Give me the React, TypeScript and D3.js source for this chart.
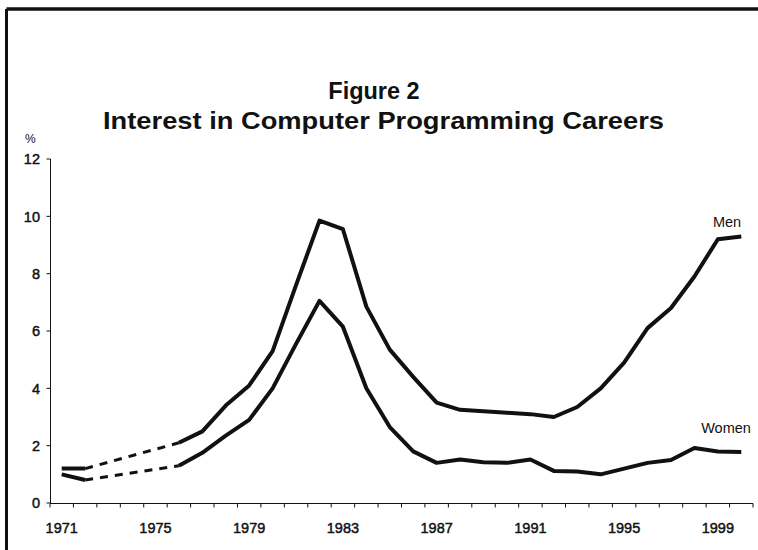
import React from "react";
import * as d3 from "d3";

const years: string[] = [
  "1971","1972","1973","1974","1975","1976","1977","1978","1979","1980",
  "1981","1982","1983","1984","1985","1986","1987","1988","1989","1990",
  "1991","1992","1993","1994","1995","1996","1997","1998","1999","2000",
];
const labeledYears: string[] = ["1971","1975","1979","1983","1987","1991","1995","1999"];
const yTicks: number[] = [0, 2, 4, 6, 8, 10, 12];

const men: (number | null)[] = [
  1.2, 1.2, null, null, null, 2.1, 2.5, 3.4, 4.1, 5.3,
  7.6, 9.85, 9.55, 6.85, 5.35, 4.4, 3.5, 3.25, 3.2, 3.15,
  3.1, 3.0, 3.35, 4.0, 4.9, 6.1, 6.8, 7.9, 9.2, 9.3,
];
const women: (number | null)[] = [
  1.0, 0.8, null, null, null, 1.3, 1.75, 2.35, 2.9, 4.0,
  5.55, 7.05, 6.15, 4.0, 2.65, 1.8, 1.4, 1.52, 1.42, 1.4,
  1.52, 1.12, 1.1, 1.0, 1.2, 1.4, 1.5, 1.92, 1.8, 1.78,
];

const W = 758;
const H = 550;
const FONT = "'Liberation Sans', Arial, Helvetica, sans-serif";
const INK = "#111";

export default function App() {
  const x = d3.scaleBand<string>().domain(years).range([50, 753]);
  const y = d3.scaleLinear().domain([0, 12]).range([503, 159]);
  const cx = (yr: string) => (x(yr) as number) + x.bandwidth() / 2;

  const line = d3
    .line<number | null>()
    .defined((d) => d !== null)
    .x((_, i) => cx(years[i]))
    .y((d) => y(d as number));

  // dashed connector across the gap in the data
  const gapPath = (series: (number | null)[]) => {
    const pts: [number, number][] = [];
    for (let i = 0; i < series.length - 1; i++) {
      if (series[i] !== null && series[i + 1] === null) {
        let j = i + 1;
        while (j < series.length && series[j] === null) j++;
        if (j < series.length) pts.push([i, j]);
      }
    }
    return pts
      .map(([a, b]) =>
        d3.line()([
          [cx(years[a]), y(series[a] as number)],
          [cx(years[b]), y(series[b] as number)],
        ])
      )
      .join(" ");
  };

  const tickXs = [...years.map((yr) => x(yr) as number), 753];
  const heavy = { stroke: INK, strokeWidth: 0.45 } as const;

  return (
    <svg
      width={W}
      height={H}
      style={{ position: "absolute", left: 0, top: 0, background: "#fff" }}
      fontFamily={FONT}
    >
      <rect x={0} y={0} width={W} height={H} fill="#fff" />
      {/* frame */}
      <line x1={6.5} y1={9} x2={W} y2={9} stroke={INK} strokeWidth={3.5} />
      <line x1={6.5} y1={9} x2={6.5} y2={H} stroke={INK} strokeWidth={3} />

      {/* title */}
      <text x={374} y={99} textAnchor="middle" fontSize={23.5} fontWeight="bold" fill={INK}>
        Figure 2
      </text>
      <text
        x={383.5}
        y={129}
        textAnchor="middle"
        fontSize={23.5}
        fontWeight="bold"
        fill={INK}
        textLength={561}
        lengthAdjust="spacingAndGlyphs"
      >
        Interest in Computer Programming Careers
      </text>

      {/* y axis */}
      <text x={25} y={143} fontSize={12} fill={INK}>%</text>
      <line x1={50.5} y1={y(12)} x2={50.5} y2={y(0)} stroke={INK} strokeWidth={1} />
      {yTicks.map((t) => (
        <g key={t}>
          <line x1={46.5} x2={50.5} y1={y(t)} y2={y(t)} stroke={INK} strokeWidth={1} />
          <text x={40} y={y(t)} dy="0.36em" textAnchor="end" fontSize={14.5} fill={INK} {...heavy}>
            {t}
          </text>
        </g>
      ))}

      {/* x axis */}
      <line x1={50} x2={753} y1={503.5} y2={503.5} stroke={INK} strokeWidth={1} />
      {tickXs.map((tx, i) => (
        <line key={i} x1={tx} x2={tx} y1={503.5} y2={507.5} stroke={INK} strokeWidth={1} />
      ))}
      {labeledYears.map((yr) => (
        <text key={yr} x={cx(yr)} y={533} textAnchor="middle" fontSize={14.5} fill={INK} {...heavy}>
          {yr}
        </text>
      ))}

      {/* series */}
      <path d={line(men) || ""} fill="none" stroke={INK} strokeWidth={4} strokeLinejoin="round" />
      <path d={line(women) || ""} fill="none" stroke={INK} strokeWidth={4} strokeLinejoin="round" />
      <path d={gapPath(men)} fill="none" stroke={INK} strokeWidth={3} strokeDasharray="8 7" />
      <path d={gapPath(women)} fill="none" stroke={INK} strokeWidth={3} strokeDasharray="8 7" />

      {/* labels */}
      <text x={727} y={227} textAnchor="middle" fontSize={14.5} fill={INK}>Men</text>
      <text x={726} y={433} textAnchor="middle" fontSize={14.5} fill={INK}>Women</text>
    </svg>
  );
}
